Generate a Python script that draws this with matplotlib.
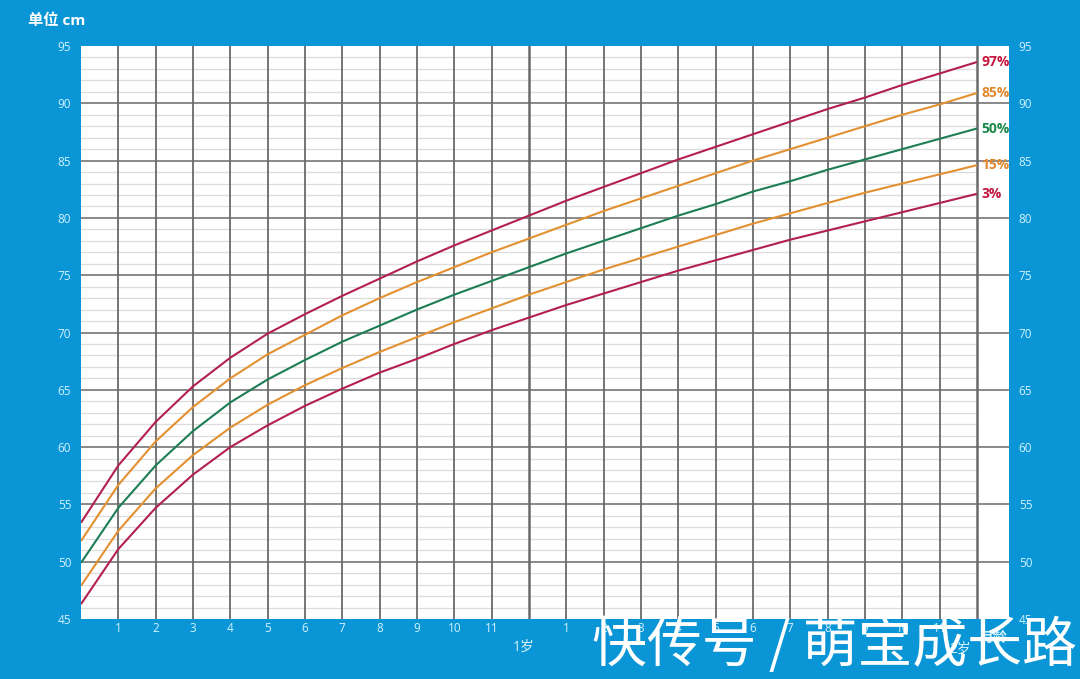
import matplotlib
matplotlib.use("Agg")
import matplotlib.pyplot as plt
import numpy as np

plt.rcParams['font.family'] = ['Open Sans', 'Noto Sans CJK SC', 'DejaVu Sans']

months = list(range(0, 25))
p97 = [53.4, 58.4, 62.2, 65.3, 67.8, 69.9, 71.6, 73.2, 74.7, 76.2, 77.6, 78.9, 80.2,
       81.5, 82.7, 83.9, 85.1, 86.2, 87.3, 88.4, 89.5, 90.5, 91.6, 92.6, 93.6]
p85 = [51.8, 56.7, 60.5, 63.5, 66.0, 68.1, 69.8, 71.5, 73.0, 74.4, 75.7, 77.0, 78.2,
       79.4, 80.6, 81.7, 82.8, 83.9, 85.0, 86.0, 87.0, 88.0, 89.0, 89.9, 90.9]
p50 = [49.9, 54.7, 58.4, 61.4, 63.9, 65.9, 67.6, 69.2, 70.6, 72.0, 73.3, 74.5, 75.7,
       76.9, 78.0, 79.1, 80.2, 81.2, 82.3, 83.2, 84.2, 85.1, 86.0, 86.9, 87.8]
p15 = [47.9, 52.7, 56.4, 59.3, 61.7, 63.7, 65.4, 66.9, 68.3, 69.6, 70.9, 72.1, 73.3,
       74.4, 75.5, 76.5, 77.5, 78.5, 79.5, 80.4, 81.3, 82.2, 83.0, 83.8, 84.6]
p3 = [46.3, 51.1, 54.7, 57.6, 60.0, 61.9, 63.6, 65.1, 66.5, 67.7, 69.0, 70.2, 71.3,
      72.4, 73.4, 74.4, 75.4, 76.3, 77.2, 78.1, 78.9, 79.7, 80.5, 81.3, 82.1]
series_labels = ['97%', '85%', '50%', '15%', '3%']
month_tick_labels = ['1', '2', '3', '4', '5', '6', '7', '8', '9', '10', '11', '',
                     '1', '2', '3', '4', '5', '6', '7', '8', '9', '10', '11']
y_ticks = [45, 50, 55, 60, 65, 70, 75, 80, 85, 90, 95]

BG = '#0a96d6'
TXT = '#d2f2ff'
RED = '#b3204e'
ORG = '#e39030'
GRN = '#1d7d55'
LAB_RED = '#c4173f'
LAB_ORG = '#e2882c'
LAB_GRN = '#1a8a4a'

fig = plt.figure(figsize=(10.8, 6.79), dpi=100, facecolor=BG)
ax = fig.add_axes([81/1080, 1-619/679, (1009-81)/1080, (619-46)/679])
ax.set_facecolor('white')
XMAX = 24.86
ax.set_xlim(0, XMAX)
ax.set_ylim(45, 95)

# grid
for v in range(46, 95):
    if v % 5 != 0:
        ax.plot([0, 24], [v, v], color='#dcdcdc', lw=0.9, zorder=1)
for v in range(50, 95, 5):
    ax.plot([0, XMAX], [v, v], color='#808080', lw=1.3, zorder=1)
for m in range(1, 25):
    ax.axvline(m, color='#6a6a6a', lw=1.3 if m not in (12, 24) else 1.8, zorder=1)

series = [p97, p85, p50, p15, p3]
colors = [RED, ORG, GRN, ORG, RED]
lab_colors = [LAB_RED, LAB_ORG, LAB_GRN, LAB_ORG, LAB_RED]
for s, c, lc, lab in zip(series, colors, lab_colors, series_labels):
    ax.plot(months, s, color=c, lw=1.5, zorder=3, solid_capstyle='butt')
    ax.text(24.12, s[-1], lab, color=lc, fontsize=10, fontweight='bold',
            va='center', ha='left', zorder=4)

for sp in ax.spines.values():
    sp.set_visible(False)

ax.set_xticks(list(range(1, 24)))
ax.set_xticklabels(month_tick_labels)
ax.set_yticks(y_ticks)
ax.tick_params(axis='x', length=0, pad=2, labelsize=8.5, colors=TXT)
ax.tick_params(axis='y', length=0, pad=7, labelsize=8.5, colors=TXT,
               left=True, right=True, labelleft=True, labelright=True)

# bottom age labels
ax.text(11.85, 43.2, '1岁', color=TXT, fontsize=10, ha='center', va='top')
ax.text(23.55, 43.0, '2岁', color=TXT, fontsize=10, ha='center', va='top')
ax.text(24.45, 44.0, '月龄', color=TXT, fontsize=10, ha='center', va='top',
        fontweight='bold')

fig.text(28/1080, 1-21/679, '单位 cm', color='white', fontsize=11,
         ha='left', va='center', fontweight='bold')

# watermark
fig.text(834/1080, 1-646/679, '快传号 / 萌宝成长路', color='white', fontsize=39.5,
         ha='center', va='center', family=['Noto Sans CJK SC', 'DejaVu Sans'])

fig.savefig('out.png', dpi=100, facecolor=BG)
